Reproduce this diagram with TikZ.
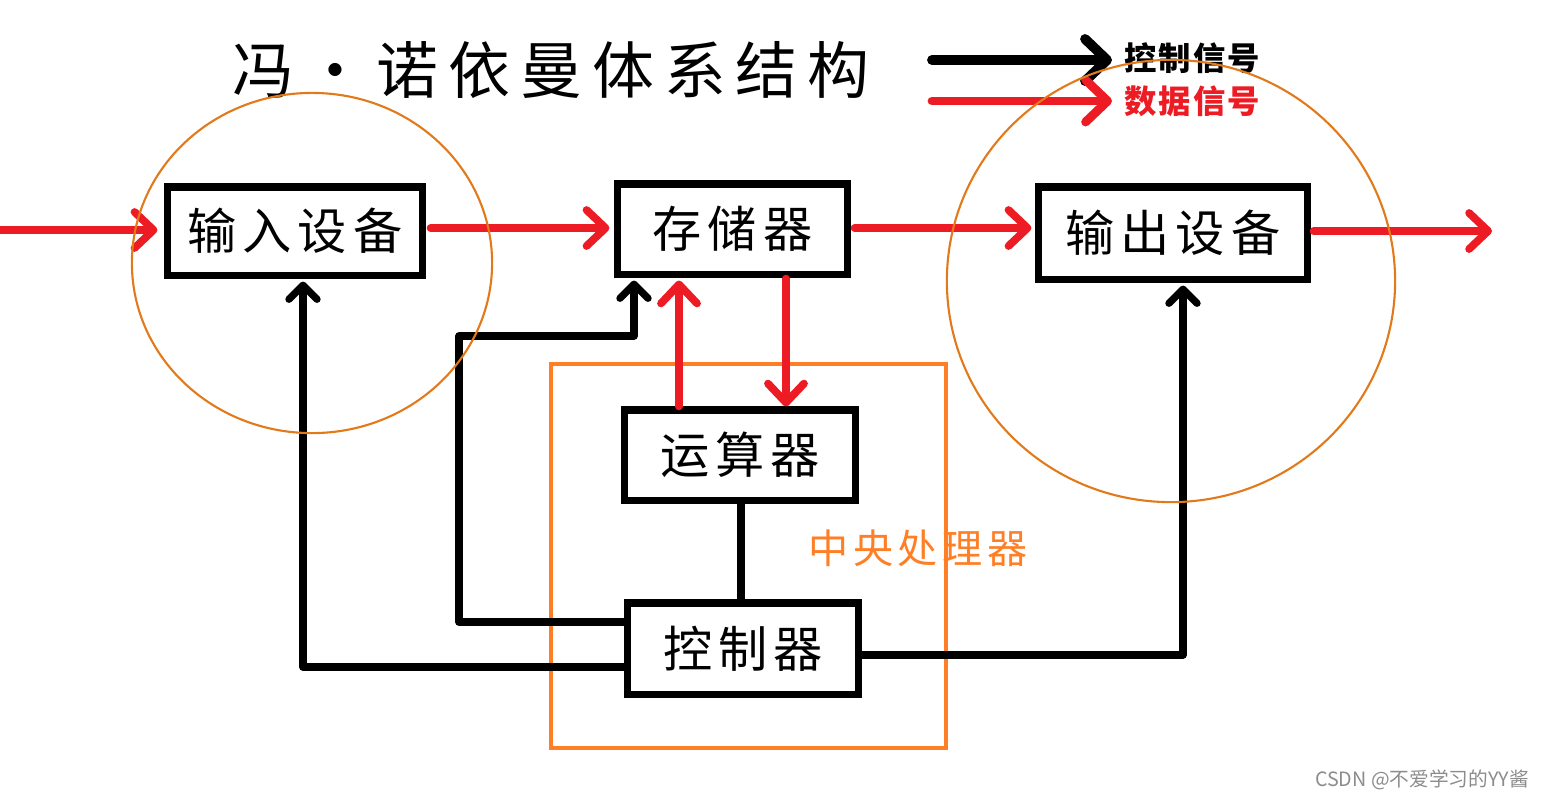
\documentclass[tikz,border=0pt]{standalone}
\usepackage{fontspec}
\setmainfont{Noto Sans CJK SC}
\newfontfamily\cjk{Noto Sans CJK SC}
\newfontfamily\cjkwide[LetterSpace=12]{Noto Sans CJK SC}
\newfontfamily\cjklegend[LetterSpace=6]{Noto Sans CJK SC}
\newfontfamily\cjktitle[LetterSpace=16]{Noto Sans CJK SC}
\usetikzlibrary{arrows.meta}
\definecolor{sigred}{HTML}{ED1C24}
\definecolor{cpuorange}{HTML}{FF7F27}
\definecolor{circorange}{HTML}{E2791A}
\begin{document}
\begin{tikzpicture}[x=0.01cm,y=-0.01cm,
  box/.style={draw=black, line width=2pt, fill=white, inner sep=0pt,
    font=\cjkwide\fontsize{14}{16}\selectfont},
  dataline/.style={draw=sigred, line width=2.2pt, line cap=round, line join=round,
    -{Straight Barb[length=0.19cm,width=0.36cm,round]}},
  ctrlline/.style={draw=black, line width=2.1pt, line cap=round, line join=round,
    -{Straight Barb[length=0.14cm,width=0.28cm,round]}},
  plainline/.style={draw=black, line width=2pt},
  circ/.style={draw=circorange, line width=0.6pt},
  legendtext/.style={font=\cjklegend\bfseries\fontsize{9.2}{10}\selectfont, anchor=west, inner sep=0pt},
]
\useasboundingbox (0,0) rectangle (1544,799);

% CPU frame and label
\node[draw=cpuorange, line width=1.2pt, minimum width=3.95cm, minimum height=3.84cm, inner sep=0pt] (cpu) at (748.5,556) {};
\node[text=cpuorange, font=\cjkwide\fontsize{11.4}{13}\selectfont] (cpulabel) at (918,548) {中央处理器};

% title
\node[font=\cjktitle\fontsize{17.6}{20}\selectfont] (title) at (551,70) {冯\,·\,诺依曼体系结构};

% legend
\node[legendtext] (lctl) at (1124,58) {控制信号};
\node[legendtext, text=sigred] (ldat) at (1124,101) {数据信号};
\coordinate (lc0) at (932,60);
\coordinate (ld0) at (932,101);
\draw[draw=black, line width=2.8pt, line cap=round, -{Straight Barb[length=0.22cm,width=0.42cm,round]}] (lc0) -- (lctl.west |- lc0) [shorten >=0.12cm];
\draw[draw=sigred, line width=2.5pt, line cap=round, -{Straight Barb[length=0.22cm,width=0.42cm,round]}] (ld0) -- (ldat.west |- ld0) [shorten >=0.12cm];

% boxes
\node[box, minimum width=2.54cm, minimum height=0.88cm] (in)  at (295,231) {输入设备};
\node[box, minimum width=2.29cm, minimum height=0.90cm] (mem) at (732.5,229) {存储器};
\node[box, minimum width=2.68cm, minimum height=0.92cm] (out) at (1173,233) {输出设备};
\node[box, minimum width=2.30cm, minimum height=0.90cm] (alu) at (740,455) {运算器};
\node[box, minimum width=2.30cm, minimum height=0.91cm] (ctl) at (743,648.5) {控制器};

% data signals
\coordinate (src) at (0,230);
\coordinate (sink) at (1492,231);
\draw[dataline, shorten >=0.07cm] (src) -- (in.west |- src);
\draw[dataline, shorten >=0.05cm, shorten <=0.05cm] (in.east |- 0,228) -- (mem.west |- 0,228);
\draw[dataline, shorten >=0.04cm, shorten <=0.04cm] (mem.east |- 0,228) -- (out.west |- 0,228);
\draw[dataline, shorten <=0.03cm] (out.east |- sink) -- (sink);
\draw[dataline, shorten >=0.03cm] (alu.north -| 679,0) -- (mem.south -| 679,0);
\draw[dataline, shorten <=0.01cm] (mem.south -| 786,0) -- (alu.north -| 786,0);

% control signals
\draw[plainline] (alu.south -| 741,0) -- (ctl.north -| 741,0);
\draw[ctrlline, shorten >=0.03cm] (ctl.west |- 0,622) -| (459,336) -| (mem.south -| 634,0);
\draw[ctrlline, shorten >=0.03cm] (ctl.west |- 0,667) -| (in.south -| 303,0);
\draw[ctrlline, shorten >=0.03cm] (ctl.east |- 0,655) -| (out.south -| 1183,0);

% circles
\draw[circ] (312,263) ellipse [x radius=1.80cm, y radius=1.70cm];
\draw[circ] (1171,281) ellipse [x radius=2.24cm, y radius=2.21cm];

% watermark
\node[text=black!45, font=\cjk\fontsize{5.6}{6}\selectfont, inner sep=0pt] (wm) at (1422,780) {CSDN @不爱学习的YY酱};
\end{tikzpicture}
\end{document}
